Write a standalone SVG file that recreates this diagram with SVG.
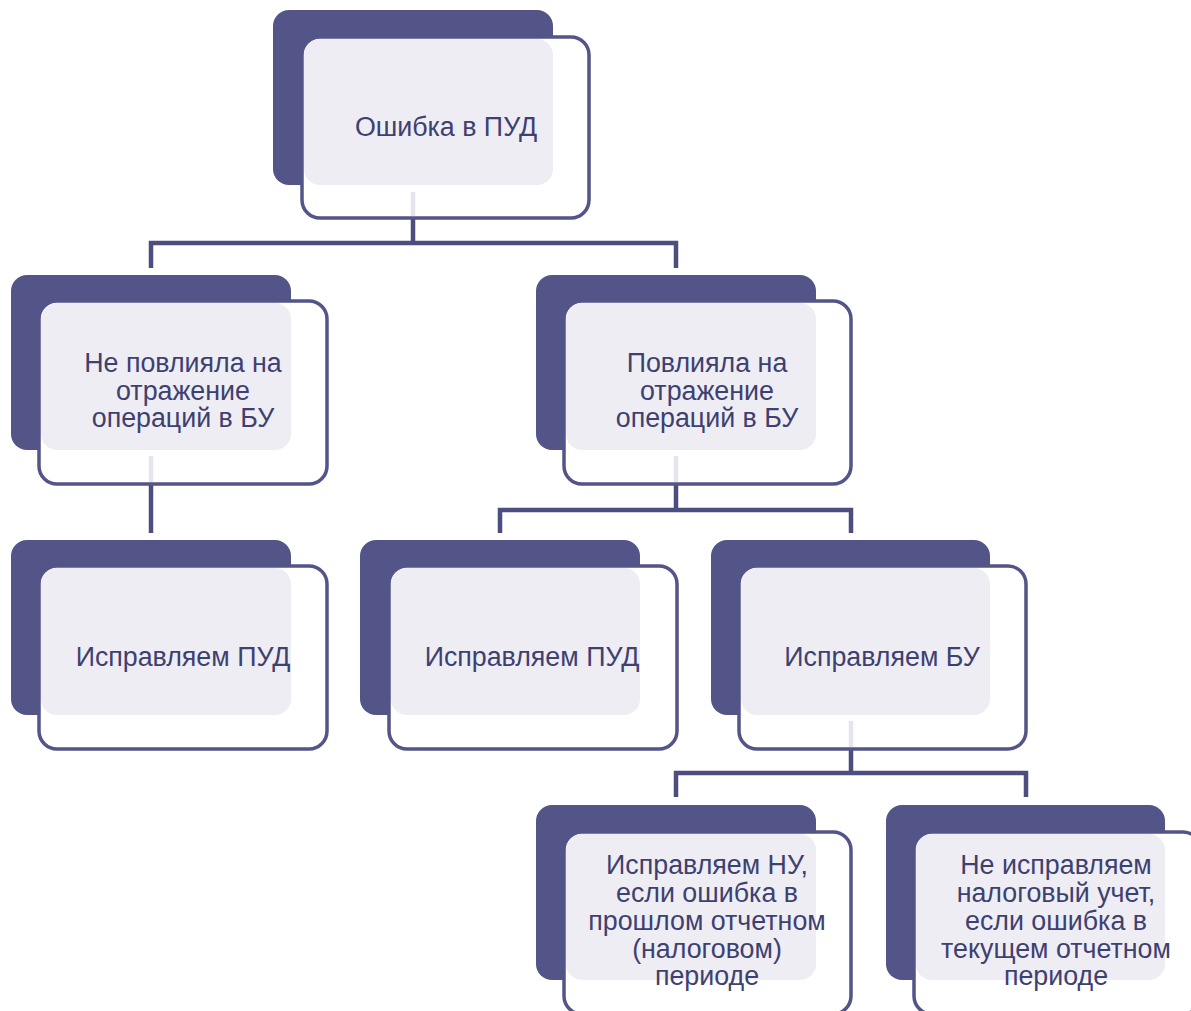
<svg xmlns="http://www.w3.org/2000/svg" width="1191" height="1011" viewBox="0 0 1191 1011">
<style>
.back{fill:#535487}
.frame{fill:#ffffff;stroke:#535487;stroke-width:3.5}
.face{fill:#EEEDF3}
.lbl{font-family:"Liberation Sans",Arial,sans-serif;font-size:26.8px;fill:#3E4070;text-anchor:middle}
.con{fill:none;stroke:#4D4E80;stroke-width:4.5}
.ghost{fill:none;stroke:#E6E5EE;stroke-width:4.5}
</style>
<rect width="1191" height="1011" fill="#ffffff"/>
<g id="connectors">
<path class="con" d="M413 218 V243 M151 268 V243 H676 V268"/>
<path class="con" d="M151 484 V533"/>
<path class="con" d="M676 484 V510 M500 533 V510 H851 V533"/>
<path class="con" d="M851 749 V773 M676 797 V773 H1026 V797"/>
</g>
<g id="n1">
<rect class="back" x="273" y="10" width="280" height="175" rx="16"/>
<rect class="frame" x="302" y="37" width="287" height="181" rx="18"/>
<rect class="face" x="304" y="39" width="249" height="146" rx="16"/>
<line class="ghost" x1="413" y1="192" x2="413" y2="216"/>
<text class="lbl" x="446" y="136">Ошибка в ПУД</text>
</g>
<g id="n2">
<rect class="back" x="11" y="275" width="280" height="175" rx="16"/>
<rect class="frame" x="39" y="301" width="288" height="183" rx="18"/>
<rect class="face" x="41" y="303" width="250" height="147" rx="16"/>
<line class="ghost" x1="151" y1="456" x2="151" y2="482"/>
<text class="lbl" x="183" y="372">Не повлияла на</text>
<text class="lbl" x="183" y="400">отражение</text>
<text class="lbl" x="183" y="427">операций в БУ</text>
</g>
<g id="n3">
<rect class="back" x="536" y="275" width="280" height="175" rx="16"/>
<rect class="frame" x="564" y="301" width="287" height="183" rx="18"/>
<rect class="face" x="566" y="303" width="250" height="147" rx="16"/>
<line class="ghost" x1="676" y1="456" x2="676" y2="482"/>
<text class="lbl" x="707" y="372">Повлияла на</text>
<text class="lbl" x="707" y="400">отражение</text>
<text class="lbl" x="707" y="427">операций в БУ</text>
</g>
<g id="n4">
<rect class="back" x="11" y="540" width="280" height="175" rx="16"/>
<rect class="frame" x="39" y="566" width="288" height="183" rx="18"/>
<rect class="face" x="41" y="568" width="250" height="147" rx="16"/>
<text class="lbl" x="183" y="666">Исправляем ПУД</text>
</g>
<g id="n5">
<rect class="back" x="360" y="540" width="280" height="175" rx="16"/>
<rect class="frame" x="389" y="566" width="288" height="183" rx="18"/>
<rect class="face" x="391" y="568" width="249" height="147" rx="16"/>
<text class="lbl" x="532" y="666">Исправляем ПУД</text>
</g>
<g id="n6">
<rect class="back" x="711" y="540" width="279" height="175" rx="16"/>
<rect class="frame" x="739" y="566" width="287" height="183" rx="18"/>
<rect class="face" x="741" y="568" width="249" height="147" rx="16"/>
<line class="ghost" x1="851" y1="721" x2="851" y2="747"/>
<text class="lbl" x="882" y="666">Исправляем БУ</text>
</g>
<g id="n7">
<rect class="back" x="536" y="805" width="280" height="175" rx="16"/>
<rect class="frame" x="564" y="832" width="287" height="182" rx="18"/>
<rect class="face" x="566" y="834" width="250" height="146" rx="16"/>
<text class="lbl" x="707" y="874">Исправляем НУ,</text>
<text class="lbl" x="707" y="902">если ошибка в</text>
<text class="lbl" x="707" y="930">прошлом отчетном</text>
<text class="lbl" x="707" y="958">(налоговом)</text>
<text class="lbl" x="707" y="985">периоде</text>
</g>
<g id="n8">
<rect class="back" x="886" y="805" width="279" height="175" rx="16"/>
<rect class="frame" x="914" y="832" width="287" height="182" rx="18"/>
<rect class="face" x="916" y="834" width="249" height="146" rx="16"/>
<text class="lbl" x="1056" y="874">Не исправляем</text>
<text class="lbl" x="1056" y="902">налоговый учет,</text>
<text class="lbl" x="1056" y="930">если ошибка в</text>
<text class="lbl" x="1056" y="958">текущем отчетном</text>
<text class="lbl" x="1056" y="985">периоде</text>
</g>
</svg>
